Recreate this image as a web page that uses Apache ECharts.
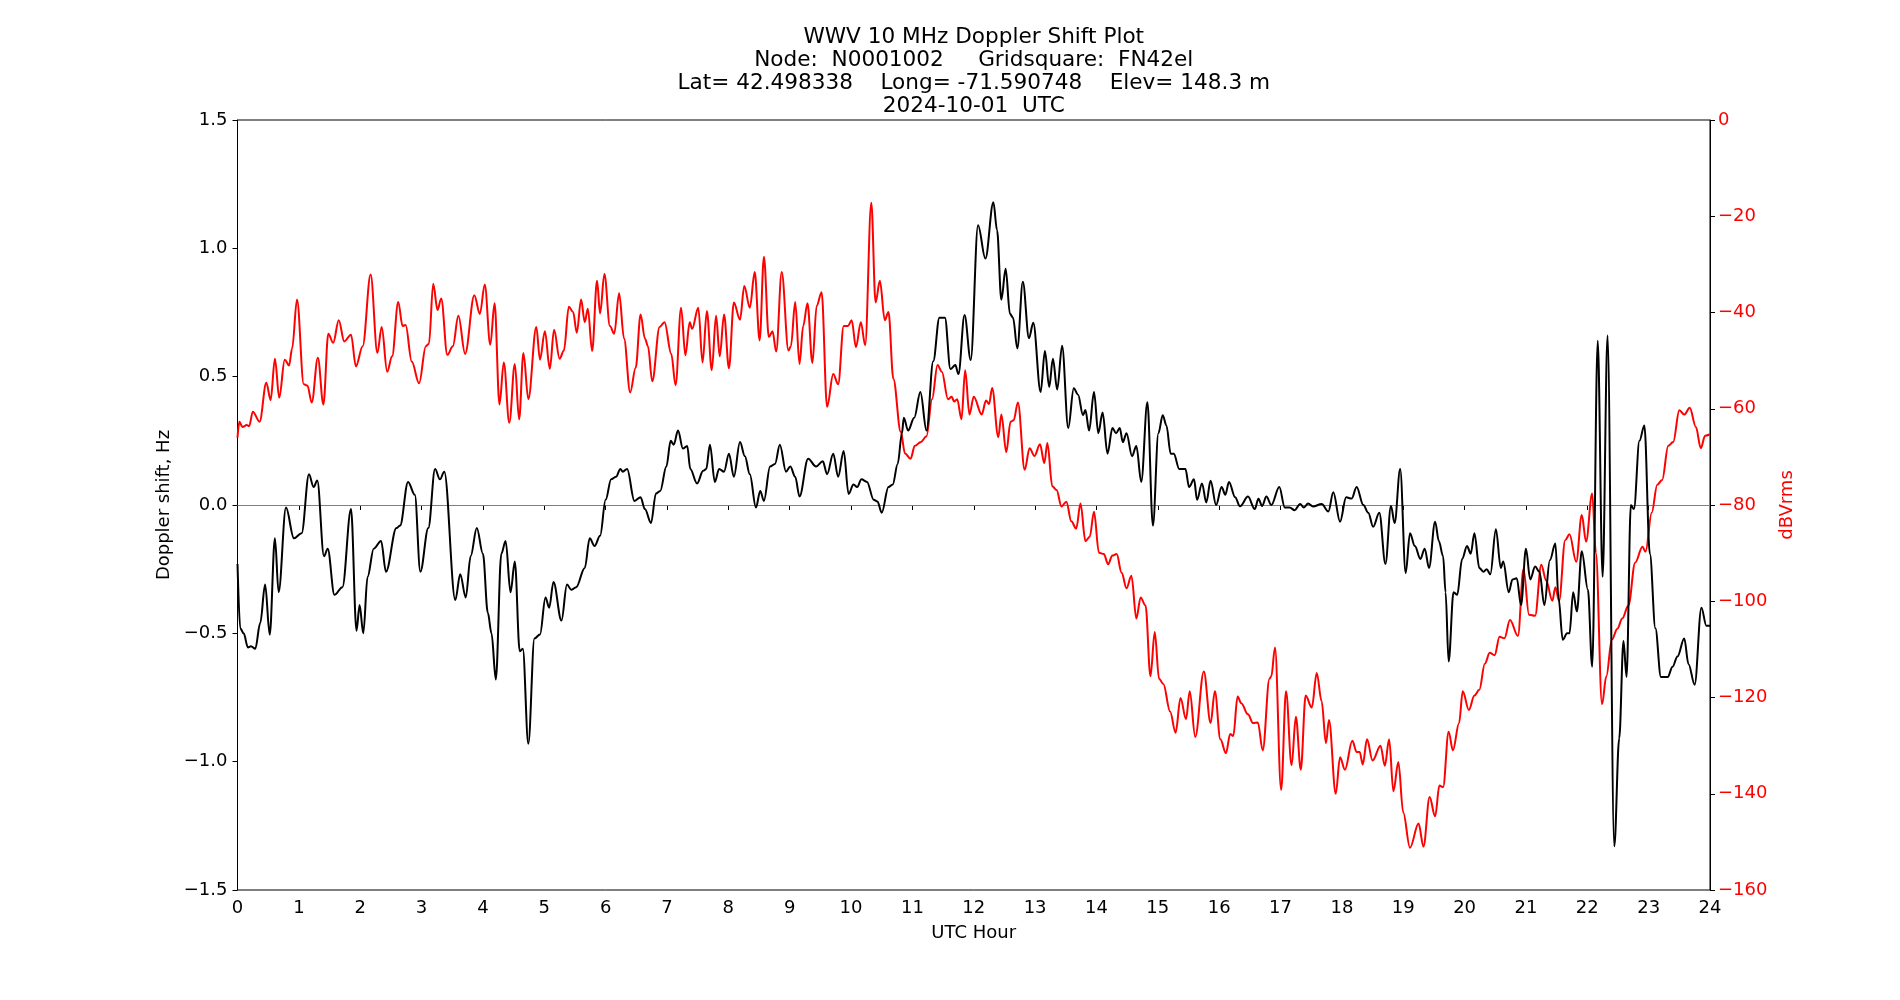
<!DOCTYPE html>
<html>
<head>
<meta charset="utf-8">
<script src="https://cdn.jsdelivr.net/npm/echarts@6/dist/echarts.min.js"></script>
<style>
html,body{margin:0;padding:0;background:#fff;}
#chart{width:1900px;height:1000px;}
</style>
</head>
<body>
<div id="chart"></div>
<script>
// ---- Data ----
const titleLines = [
  'WWV 10 MHz Doppler Shift Plot',
  'Node:  N0001002     Gridsquare:  FN42el',
  'Lat= 42.498338    Long= -71.590748    Elev= 148.3 m',
  '2024-10-01  UTC'
];
const xTicks = [0,1,2,3,4,5,6,7,8,9,10,11,12,13,14,15,16,17,18,19,20,21,22,23,24];
const dopplerTicks = [-1.5,-1.0,-0.5,0.0,0.5,1.0,1.5];
const powerTicks = [-160,-140,-120,-100,-80,-60,-40,-20,0];

const dopplerHours = [0.0,0.044,0.10,0.17,0.22,0.29,0.37,0.45,0.525,0.61,0.67,0.79,0.92,1.045,1.165,1.24,1.30,1.41,1.47,1.58,1.71,1.85,1.94,1.99,2.05,2.12,2.22,2.34,2.42,2.59,2.65,2.78,2.89,2.98,3.11,3.22,3.30,3.37,3.55,3.63,3.72,3.80,3.90,4.0,4.08,4.14,4.21,4.30,4.37,4.45,4.52,4.60,4.65,4.74,4.84,4.93,5.02,5.08,5.15,5.28,5.37,5.44,5.52,5.66,5.74,5.82,5.91,6.0,6.09,6.17,6.24,6.28,6.35,6.47,6.57,6.64,6.74,6.82,6.89,6.99,7.06,7.11,7.18,7.26,7.33,7.38,7.49,7.59,7.64,7.70,7.78,7.85,7.93,8.01,8.09,8.19,8.27,8.35,8.45,8.52,8.58,8.68,8.76,8.84,8.94,9.01,9.09,9.16,9.30,9.43,9.54,9.61,9.71,9.79,9.88,9.96,10.04,10.10,10.17,10.26,10.37,10.43,10.50,10.61,10.68,10.76,10.83,10.86,10.93,11.03,11.13,11.23,11.34,11.44,11.53,11.62,11.70,11.75,11.85,11.95,12.07,12.19,12.32,12.38,12.45,12.52,12.59,12.64,12.71,12.80,12.90,12.97,13.09,13.16,13.23,13.29,13.36,13.44,13.54,13.63,13.70,13.78,13.82,13.88,13.96,14.03,14.10,14.18,14.26,14.32,14.38,14.43,14.49,14.58,14.65,14.73,14.83,14.92,15.01,15.08,15.14,15.21,15.26,15.35,15.45,15.51,15.59,15.64,15.72,15.79,15.86,15.95,16.04,16.10,16.16,16.26,16.34,16.47,16.58,16.64,16.70,16.77,16.85,16.98,17.07,17.15,17.23,17.32,17.38,17.45,17.53,17.67,17.78,17.86,17.97,18.07,18.16,18.24,18.35,18.43,18.51,18.61,18.71,18.80,18.86,18.95,19.04,19.11,19.19,19.28,19.35,19.42,19.52,19.58,19.65,19.69,19.74,19.82,19.88,19.96,20.04,20.10,20.16,20.24,20.31,20.36,20.42,20.51,20.59,20.63,20.72,20.78,20.85,20.92,21.0,21.07,21.15,21.22,21.30,21.39,21.48,21.53,21.60,21.67,21.71,21.77,21.83,21.91,22.01,22.08,22.17,22.25,22.33,22.44,22.52,22.59,22.64,22.71,22.76,22.85,22.93,23.02,23.11,23.20,23.31,23.39,23.47,23.58,23.65,23.75,23.86,23.94,24.0];
const dopplerHz = [-0.23,-0.48,-0.50,-0.555,-0.55,-0.56,-0.46,-0.31,-0.505,-0.13,-0.34,-0.01,-0.13,-0.11,0.12,0.07,0.095,-0.20,-0.17,-0.35,-0.32,-0.016,-0.49,-0.39,-0.50,-0.28,-0.17,-0.14,-0.26,-0.09,-0.08,0.09,0.04,-0.26,-0.09,0.14,0.10,0.13,-0.37,-0.27,-0.36,-0.20,-0.09,-0.19,-0.42,-0.50,-0.68,-0.19,-0.14,-0.34,-0.22,-0.57,-0.56,-0.93,-0.52,-0.505,-0.36,-0.40,-0.30,-0.45,-0.31,-0.33,-0.32,-0.245,-0.13,-0.16,-0.12,0.02,0.10,0.11,0.14,0.13,0.14,0.016,0.03,-0.016,-0.07,0.045,0.055,0.15,0.25,0.235,0.29,0.22,0.23,0.14,0.084,0.133,0.14,0.235,0.09,0.14,0.13,0.20,0.11,0.245,0.19,0.12,-0.01,0.055,0.016,0.15,0.16,0.235,0.13,0.15,0.11,0.033,0.18,0.15,0.17,0.12,0.20,0.11,0.21,0.043,0.08,0.07,0.10,0.09,0.02,0.014,-0.03,0.07,0.08,0.16,0.28,0.34,0.29,0.34,0.44,0.29,0.56,0.73,0.73,0.53,0.545,0.51,0.74,0.565,1.09,0.96,1.18,1.07,0.80,0.92,0.745,0.73,0.61,0.87,0.65,0.71,0.44,0.60,0.46,0.57,0.45,0.62,0.30,0.455,0.43,0.35,0.37,0.29,0.44,0.28,0.36,0.20,0.30,0.28,0.30,0.245,0.28,0.19,0.23,0.09,0.40,-0.08,0.28,0.35,0.31,0.20,0.20,0.14,0.14,0.07,0.10,0.02,0.084,0.01,0.094,0.0,0.07,0.04,0.09,0.03,-0.005,0.033,-0.016,0.024,-0.004,0.033,0.0,0.07,-0.01,-0.01,-0.02,0.004,-0.01,0.006,-0.006,0.004,-0.025,0.05,-0.065,0.03,0.025,0.07,0.0,-0.03,-0.085,-0.03,-0.23,-0.004,-0.07,0.14,-0.265,-0.11,-0.16,-0.21,-0.17,-0.245,-0.065,-0.14,-0.20,-0.34,-0.61,-0.34,-0.35,-0.21,-0.16,-0.19,-0.11,-0.245,-0.26,-0.25,-0.27,-0.094,-0.245,-0.22,-0.34,-0.29,-0.285,-0.39,-0.17,-0.29,-0.24,-0.26,-0.39,-0.215,-0.15,-0.36,-0.525,-0.50,-0.50,-0.34,-0.415,-0.18,-0.33,-0.63,0.64,-0.28,0.66,-1.33,-0.91,-0.53,-0.67,0.0,-0.016,0.25,0.31,-0.19,-0.48,-0.67,-0.67,-0.63,-0.59,-0.52,-0.62,-0.70,-0.40,-0.47,-0.47];

const powerHours = [0.0,0.03,0.08,0.15,0.19,0.25,0.36,0.47,0.54,0.61,0.68,0.77,0.84,0.89,0.97,1.08,1.14,1.21,1.31,1.40,1.48,1.56,1.65,1.74,1.85,1.93,2.04,2.17,2.28,2.35,2.44,2.52,2.62,2.69,2.74,2.84,2.96,3.07,3.12,3.19,3.26,3.32,3.42,3.51,3.60,3.71,3.86,3.95,4.03,4.12,4.19,4.27,4.34,4.43,4.52,4.59,4.66,4.74,4.87,4.93,5.01,5.09,5.16,5.25,5.32,5.40,5.47,5.53,5.60,5.66,5.71,5.78,5.86,5.91,5.98,6.07,6.14,6.22,6.30,6.40,6.49,6.57,6.64,6.69,6.76,6.88,6.96,7.07,7.14,7.23,7.30,7.37,7.41,7.51,7.58,7.65,7.73,7.80,7.86,7.93,8.01,8.09,8.19,8.26,8.35,8.43,8.51,8.58,8.66,8.72,8.78,8.87,8.98,9.02,9.09,9.16,9.22,9.29,9.37,9.44,9.52,9.61,9.71,9.79,9.88,9.95,10.01,10.08,10.16,10.23,10.33,10.40,10.47,10.55,10.61,10.69,10.81,10.88,10.97,11.04,11.14,11.23,11.32,11.41,11.48,11.58,11.64,11.68,11.73,11.80,11.86,11.93,12.0,12.13,12.20,12.25,12.30,12.40,12.45,12.53,12.60,12.65,12.72,12.83,12.91,12.99,13.08,13.15,13.20,13.28,13.35,13.43,13.51,13.59,13.67,13.74,13.82,13.89,13.96,14.04,14.12,14.19,14.26,14.33,14.41,14.49,14.57,14.65,14.72,14.80,14.88,14.95,15.02,15.09,15.20,15.29,15.37,15.46,15.52,15.61,15.75,15.86,15.93,16.02,16.11,16.18,16.23,16.30,16.36,16.47,16.55,16.63,16.71,16.82,16.85,16.91,17.01,17.09,17.18,17.25,17.33,17.41,17.51,17.59,17.67,17.74,17.79,17.90,17.97,18.05,18.17,18.24,18.29,18.34,18.41,18.50,18.63,18.70,18.77,18.84,18.92,19.0,19.11,19.25,19.33,19.43,19.52,19.59,19.65,19.74,19.81,19.91,19.97,20.07,20.16,20.24,20.33,20.41,20.49,20.57,20.65,20.74,20.87,20.96,21.05,21.15,21.25,21.33,21.43,21.48,21.54,21.64,21.71,21.82,21.91,21.98,22.08,22.14,22.24,22.31,22.40,22.49,22.57,22.67,22.78,22.90,22.95,23.05,23.14,23.22,23.32,23.40,23.50,23.58,23.67,23.77,23.85,23.92,24.0];
const powerDb = [-66,-62.7,-63.8,-63.4,-63.6,-60.6,-62.7,-54.6,-58.2,-49.6,-57.7,-49.8,-51,-47.5,-37.3,-54.9,-55.2,-58.7,-49.4,-59.1,-44.4,-46.3,-41.6,-46,-44.6,-51.2,-47,-32.1,-48.4,-43,-52.3,-49.1,-37.8,-42.8,-42.6,-50.2,-54.7,-47,-46.5,-34,-39.5,-37.1,-48.8,-47,-40.7,-48.6,-36.4,-40.3,-34.2,-46.7,-38.1,-59.1,-50.4,-62.9,-50.7,-62.2,-48.4,-58,-43,-49.8,-43.9,-51.7,-43.6,-49.6,-47.9,-38.8,-39.9,-44.2,-37.3,-42,-39.2,-48,-33.4,-40.2,-32,-42.8,-44.4,-36,-45.4,-56.6,-51.5,-40.4,-45.4,-47,-54.3,-43,-42,-48.6,-55.1,-39,-48.9,-42,-43.4,-39,-50.4,-39.7,-52,-40.7,-49.1,-40.4,-51.6,-37.9,-41.5,-34.5,-39,-31.6,-45.8,-28.4,-45.1,-43.9,-48.1,-31.6,-47.9,-47,-37.8,-50.7,-42.8,-38.1,-50.5,-38.6,-35.8,-59.6,-52.8,-54.9,-42.8,-42.8,-41.6,-47.2,-42,-46.8,-17.2,-37.9,-33.4,-41.6,-39.9,-53.8,-64.8,-69.3,-70.4,-67.7,-66.9,-65.7,-58,-50.9,-52.3,-58,-57.5,-58.5,-58,-62.2,-52,-61.2,-57.5,-61.2,-58.3,-59,-55.7,-65.9,-61.2,-69,-62.7,-62.4,-58.7,-72.7,-68.2,-69.8,-67.4,-71.3,-67.1,-76.1,-76.9,-80.3,-79.3,-83.4,-84.9,-79.7,-87.5,-86.6,-81.4,-89.9,-90.2,-92.3,-90.5,-90.2,-94.1,-97.3,-94.7,-103.6,-99.2,-100.9,-115.6,-106.4,-116.1,-117.2,-122.9,-127.3,-120.1,-124.5,-118.7,-128.2,-114.6,-125.3,-118.7,-128.7,-131.6,-127.6,-128,-119.8,-121.2,-123.5,-125.3,-125.2,-131,-116.1,-115.6,-109.6,-139.2,-118.7,-134.1,-124,-135,-119.6,-122.1,-114.9,-120.8,-129.5,-124.7,-140,-132.4,-135,-129,-131.3,-131.3,-133.9,-128.7,-133.1,-130,-134.2,-128.7,-139.5,-133.4,-143.9,-151.2,-146.2,-151,-140.7,-144.7,-138.3,-138.6,-127.1,-131,-125.3,-118.7,-122.6,-119.6,-118.4,-113,-110.7,-111.2,-107.4,-107.7,-103.9,-107.2,-93.3,-102.8,-103,-92.4,-95.7,-99.9,-97.1,-99.9,-87.3,-86.1,-91.8,-82.1,-87.6,-77.6,-89.9,-121.4,-115.6,-108,-105.7,-103.6,-100.9,-92,-88.7,-89.7,-81.6,-75.8,-74.8,-67.7,-66.9,-60.3,-61.2,-59.8,-63.8,-68.2,-65.6,-65.3];

// ---- Chart ----
const FONT = '"DejaVu Sans", sans-serif';
const TICK_FS = 18;
const minus = s => String(s).replace('-', '\u2212');

const dopplerPairs = dopplerHours.map((h, i) => [h, dopplerHz[i]]);
const powerPairs = powerHours.map((h, i) => [h, powerDb[i]]);

const GL = 237.5, GR = 190, GT = 120, GB = 110;
const titleCenterX = GL + (1900 - GL - GR) / 2;

const chart = echarts.init(document.getElementById('chart'), null, {renderer: 'canvas'});
chart.setOption({
  backgroundColor: '#ffffff',
  animation: false,
  graphic: titleLines.map((t, i) => ({
    type: 'text',
    x: titleCenterX,
    y: 37.5 + i * 23,
    style: {
      text: t, fill: '#000', font: '21.6px ' + FONT,
      textAlign: 'center', textVerticalAlign: 'middle'
    }
  })),
  grid: {
    left: GL, right: GR, top: GT, bottom: GB,
    show: true, borderColor: '#000', borderWidth: 1, backgroundColor: 'transparent'
  },
  xAxis: {
    type: 'value', min: xTicks[0], max: xTicks[xTicks.length - 1], interval: 1,
    name: 'UTC Hour', nameLocation: 'middle', nameGap: 34,
    nameTextStyle: {fontFamily: FONT, fontSize: TICK_FS, color: '#000'},
    axisLine: {lineStyle: {color: '#000', width: 1}},
    axisTick: {inside: false, length: 5, lineStyle: {color: '#000'}},
    axisLabel: {fontFamily: FONT, fontSize: TICK_FS, color: '#000', margin: 9, formatter: v => minus(v)},
    splitLine: {show: false}
  },
  yAxis: [{
    type: 'value', position: 'left',
    min: dopplerTicks[0], max: dopplerTicks[dopplerTicks.length - 1], interval: 0.5,
    name: 'Doppler shift, Hz', nameLocation: 'middle', nameGap: 57, nameRotate: 90,
    nameTextStyle: {fontFamily: FONT, fontSize: TICK_FS, color: '#000'},
    axisLine: {show: true, lineStyle: {color: '#000', width: 1}},
    axisTick: {show: true, inside: false, length: 5, lineStyle: {color: '#000'}},
    axisLabel: {fontFamily: FONT, fontSize: TICK_FS, color: '#000', margin: 10, formatter: v => minus(v.toFixed(1))},
    splitLine: {show: false}
  }, {
    type: 'value', position: 'right',
    min: powerTicks[0], max: powerTicks[powerTicks.length - 1], interval: 20,
    name: 'dBVrms', nameLocation: 'middle', nameGap: 63, nameRotate: 90,
    nameTextStyle: {fontFamily: FONT, fontSize: TICK_FS, color: '#ff0000'},
    axisLine: {show: true, lineStyle: {color: '#000', width: 1}},
    axisTick: {show: true, inside: false, length: 5, lineStyle: {color: '#000'}},
    axisLabel: {fontFamily: FONT, fontSize: TICK_FS, color: '#ff0000', margin: 8, formatter: v => minus(v)},
    splitLine: {show: false}
  }],
  series: [{
    name: 'Doppler', type: 'line', yAxisIndex: 0, data: dopplerPairs,
    showSymbol: false, smooth: 0.35, smoothMonotone: 'x',
    lineStyle: {color: '#000000', width: 2}, z: 3,
    markLine: {
      silent: true, symbol: 'none', label: {show: false},
      lineStyle: {color: '#808080', width: 1, type: 'solid'},
      data: [{yAxis: 0}], z: 1
    }
  }, {
    name: 'Power', type: 'line', yAxisIndex: 1, data: powerPairs,
    showSymbol: false, smooth: 0.35, smoothMonotone: 'x',
    lineStyle: {color: '#ff0000', width: 2}, z: 2
  }]
});
</script>
</body>
</html>
